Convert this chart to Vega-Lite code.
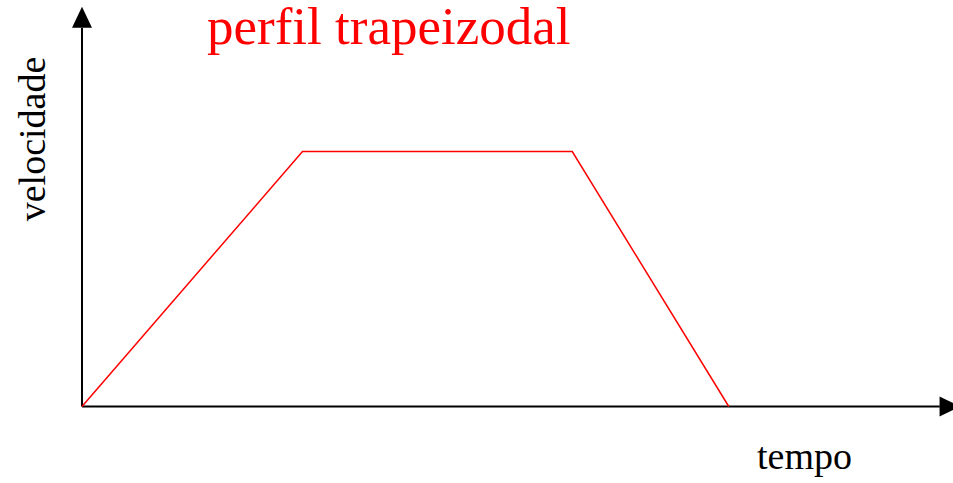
{
  "$schema": "https://vega.github.io/schema/vega-lite/v6.json",
  "width": 953,
  "height": 483,
  "autosize": {"type": "none"},
  "padding": 0,
  "background": "white",
  "config": {"view": {"stroke": null}},
  "title": {
    "text": "perfil trapeizodal",
    "color": "#ff0000",
    "font": "Liberation Serif",
    "fontSize": 53,
    "fontWeight": "normal",
    "anchor": "start",
    "frame": "group",
    "baseline": "alphabetic",
    "offset": 0,
    "dx": 207,
    "dy": 97
  },
  "datasets": {
    "perfil": [
      {"t": 0, "v": 0},
      {"t": 3.0, "v": 5},
      {"t": 6.67, "v": 5},
      {"t": 8.8, "v": 0}
    ],
    "eixos": [
      {"eixo": "velocidade", "t": 0, "v": 0, "t2": 0, "v2": 7.42},
      {"eixo": "tempo", "t": 0, "v": 0, "t2": 11.67, "v2": 0}
    ],
    "setas": [
      {"eixo": "velocidade", "t": 0, "v": 7.63},
      {"eixo": "tempo", "t": 11.81, "v": 0}
    ]
  },
  "encoding": {
    "x": {
      "field": "t",
      "type": "quantitative",
      "scale": {"domain": [-1.1156, 11.8503], "nice": false, "zero": false},
      "axis": {
        "domain": false, "ticks": false, "labels": false, "grid": false,
        "title": "tempo",
        "titleX": 804, "titleY": -15,
        "titleAlign": "center", "titleBaseline": "alphabetic",
        "titleFont": "Liberation Serif", "titleFontSize": 38,
        "titleFontWeight": "normal", "titleColor": "black"
      }
    },
    "y": {
      "field": "v",
      "type": "quantitative",
      "scale": {"domain": [-1.5, 7.9706], "nice": false, "zero": false},
      "axis": {
        "domain": false, "ticks": false, "labels": false, "grid": false,
        "title": "velocidade",
        "titleX": 44, "titleY": 138.5, "titleAngle": 270,
        "titleAlign": "center", "titleBaseline": "alphabetic",
        "titleFont": "Liberation Serif", "titleFontSize": 38,
        "titleFontWeight": "normal", "titleColor": "black"
      }
    }
  },
  "layer": [
    {
      "data": {"name": "eixos"},
      "mark": {"type": "rule", "color": "black", "strokeWidth": 2},
      "encoding": {
        "x2": {"field": "t2"},
        "y2": {"field": "v2"}
      }
    },
    {
      "data": {"name": "setas"},
      "mark": {"type": "point", "filled": true, "color": "black", "opacity": 1, "size": 441, "strokeWidth": 0},
      "encoding": {
        "shape": {
          "field": "eixo",
          "type": "nominal",
          "scale": {"domain": ["velocidade", "tempo"], "range": ["M0,-1L-0.95,1L0.95,1Z", "M1,0L-1,-0.95L-1,0.95Z"]},
          "legend": null
        }
      }
    },
    {
      "data": {"name": "perfil"},
      "mark": {"type": "line", "color": "#ff0000", "strokeWidth": 1.5}
    }
  ]
}
